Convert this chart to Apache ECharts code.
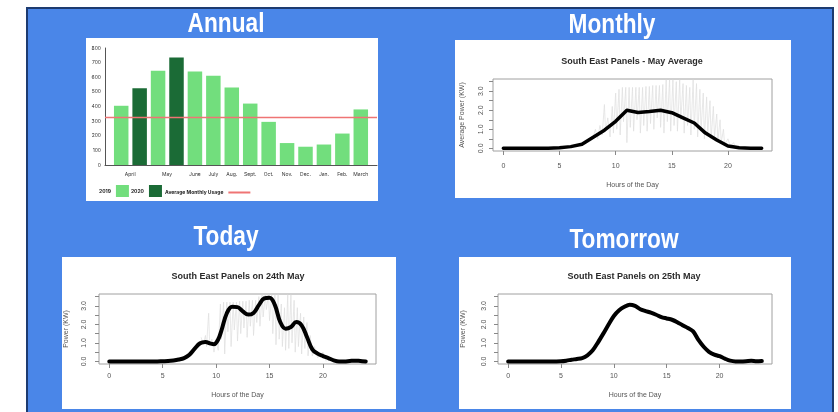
<!DOCTYPE html>
<html><head><meta charset="utf-8">
<script src="https://cdn.jsdelivr.net/npm/echarts@6/dist/echarts.min.js"></script>
<style>html,body{margin:0;padding:0;background:#fff}#c{width:838px;height:412px}</style>
</head><body><div id="c"></div>
<script>
// ---------- Annual ----------
const months = ['April','May','June','July','Aug.','Sept.','Oct.','Nov.','Dec.','Jan.','Feb.','March'];
const usage2019 = [405,645,640,610,530,420,295,150,125,140,215,380];
const usage2020 = [525,735,null,null,null,null,null,null,null,null,null,null];
const averageMonthlyUsage = 325;

// ---------- Monthly (May average) ----------
const mayHours = [0,1,2,3,4,5,6,7,8,9,10,11,12,13,14,15,16,17,18,19,20,21,22,23];
const mayAvgPower = [0,0,0,0,0,0.03,0.09,0.21,0.58,0.95,1.42,2.0,1.88,1.93,2.0,1.87,1.6,1.33,0.8,0.44,0.12,0.03,0,0];
const mayGreyHours = [8.0,8.2,8.4,8.6,8.8,9.0,9.1,9.3,9.5,9.7,9.8,10.0,10.1,10.3,10.4,10.6,10.7,10.9,11.0,11.2,11.3,11.5,11.6,11.8,11.9,12.1,12.2,12.4,12.5,12.7,12.8,13.0,13.1,13.3,13.4,13.6,13.7,13.9,14.0,14.2,14.3,14.5,14.6,14.8,14.9,15.1,15.2,15.4,15.5,15.7,15.8,16.0,16.1,16.3,16.4,16.6,16.7,16.9,17.0,17.2,17.3,17.5,17.6,17.8,17.9,18.1,18.2,18.4,18.5,18.7,18.8,19.0,19.1,19.3,19.4,19.6,19.7,20.0,20.2,20.5,20.7];
const mayGreyPower = [0.6,1.0,0.5,1.2,0.7,2.3,0.9,1.6,0.6,2.2,0.8,2.9,1.0,3.1,0.7,3.2,1.4,3.2,0.3,3.2,1.1,3.2,0.9,3.2,1.5,3.2,0.8,3.2,1.2,3.25,0.9,3.25,1.3,3.3,1.0,3.3,1.6,3.3,1.1,3.35,0.8,3.6,1.4,3.6,0.9,3.6,1.2,3.5,0.9,3.6,1.5,3.4,0.8,3.3,1.2,3.2,0.7,3.6,1.0,3.4,0.6,3.1,0.9,2.9,0.5,2.7,0.8,2.5,0.5,2.2,0.6,1.8,0.4,1.5,0.3,1.0,0.2,0.5,0.1,0.3,0.0];

// ---------- Today (24th May) ----------
const todayHours = [0,1,2,3,4,4.5,5,5.5,6,6.5,7,7.5,8,8.5,9,9.5,9.8,10.2,10.5,11,11.5,12,12.5,13,13.5,14,14.5,15,15.5,16,16.5,17,17.5,18,18.5,19,19.5,20,20.5,21,21.5,22,22.5,23,23.5,24];
const todayPower = [0,0,0,0,0,0,0.01,0.02,0.05,0.1,0.18,0.36,0.69,0.98,1.05,0.96,0.93,1.2,1.68,2.6,2.95,2.93,2.7,2.53,2.62,3.04,3.4,3.44,3.04,2.13,1.77,1.86,2.13,1.95,1.32,0.65,0.42,0.29,0.18,0.06,0,0,0.02,0.04,0.02,0];
const todayGreyHours = [8.6,8.8,9.0,9.1,9.3,9.4,9.6,9.8,10.0,10.2,10.4,10.5,10.7,10.8,11.0,11.1,11.3,11.4,11.6,11.7,11.9,12.0,12.2,12.3,12.5,12.6,12.8,12.9,13.1,13.2,13.4,13.5,13.7,13.8,14.0,14.1,14.3,14.4,14.6,14.7,14.9,15.0,15.2,15.3,15.5,15.6,15.8,15.9,16.1,16.2,16.4,16.5,16.7,16.8,17.0,17.1,17.3,17.4,17.6,17.7,17.9,18.0,18.2,18.3,18.5,18.6,18.8,19.0,19.2,19.5,20.0,20.3];
const todayGreyPower = [1.3,0.9,1.4,0.8,2.6,0.9,1.2,0.5,1.1,0.6,3.1,1.2,3.2,0.4,3.2,1.6,3.2,0.8,3.2,1.7,3.2,1.1,3.25,1.5,3.25,1.8,3.25,1.3,3.3,1.9,3.3,1.4,3.3,2.1,3.5,1.9,3.6,2.4,3.6,2.8,3.6,2.2,3.6,1.5,3.6,0.9,3.6,1.2,3.1,0.8,2.9,0.6,3.6,0.7,3.6,1.0,3.3,0.5,2.9,0.8,2.6,0.4,2.4,0.7,2.1,0.3,1.4,0.3,0.8,0.2,0.5,0.0];

// ---------- Tomorrow (25th May) ----------
const tomorrowHours = [0,1,2,3,4,5,5.5,6,6.5,7,7.5,8,8.5,9,9.5,10,10.5,11,11.5,12,12.5,13,13.5,14,14.5,15,15.5,16,16.5,17,17.5,18,18.5,19,19.5,20,20.5,21,21.5,22,22.5,23,23.5,24];
const tomorrowPower = [0,0,0,0,0,0.01,0.04,0.09,0.13,0.18,0.33,0.6,1.03,1.5,1.99,2.45,2.76,2.95,3.06,3.0,2.82,2.72,2.63,2.52,2.39,2.32,2.25,2.12,1.95,1.8,1.62,1.16,0.79,0.52,0.37,0.28,0.15,0.04,0,0,0.01,0.03,0.01,0.02];

const powerTicks = [0,0.5,1,1.5,2,2.5,3,3.5];
const powerLabels = [0,1,2,3];
const hourLabels = [0,5,10,15,20];

const zip = (xs, ys) => xs.map((x, i) => [x, ys[i]]);

// Annual slots: paired months get two slots
const slots = [], s2019 = [], s2020 = [];
months.forEach((m, i) => {
  const paired = usage2020[i] != null;
  slots.push(paired ? {value: m, textStyle: {padding: [0, 0, 0, 18]}} : m);
  s2019.push(usage2019[i]); s2020.push('-');
  if (paired) { slots.push(m + ' 2020'); s2019.push('-'); s2020.push(usage2020[i]); }
});

const RF = 'Liberation Sans, Arial, sans-serif';
const grids = [], xAxes = [], yAxes = [], series = [], titles = [];

// Annual frame grid (0) and bar grid (1)
grids.push({left: 105, top: 48, width: 272, height: 117});
grids.push({left: 112, top: 48, width: 258, height: 117});
xAxes.push({type: 'value', gridIndex: 0, min: 0, max: 1, axisLine: {show: true, onZero: false, lineStyle: {color: '#555', width: 1}},
  axisTick: {show: false}, axisLabel: {show: false}, splitLine: {show: false}});
yAxes.push({type: 'value', gridIndex: 0, min: 0, max: 800, interval: 100, axisLine: {show: true, onZero: false, lineStyle: {color: '#555', width: 1}},
  axisTick: {show: false}, splitLine: {show: false},
  axisLabel: {fontSize: 5, color: '#333', margin: 4, fontFamily: 'Inter, sans-serif'}});
xAxes.push({type: 'category', gridIndex: 1, data: slots, axisLine: {show: false}, axisTick: {show: false},
  axisLabel: {interval: 0, fontSize: 5, color: '#333', margin: 7, fontFamily: 'Inter, sans-serif',
    formatter: v => v.endsWith(' 2020') ? '' : v}});
yAxes.push({type: 'value', gridIndex: 1, min: 0, max: 800, show: false});
series.push({name: '2019', type: 'bar', xAxisIndex: 1, yAxisIndex: 1, stack: 'u', barWidth: 14.5, data: s2019,
  itemStyle: {color: '#72de7d'}});
series.push({name: '2020', type: 'bar', xAxisIndex: 1, yAxisIndex: 1, stack: 'u', barWidth: 14.5, data: s2020,
  itemStyle: {color: '#1b6b36'}});
series.push({name: 'Average Monthly Usage', type: 'line', xAxisIndex: 0, yAxisIndex: 0, symbol: 'none', z: 5,
  color: '#ef7474', lineStyle: {color: '#ef7474', width: 1.5},
  data: [[0, averageMonthlyUsage], [1, averageMonthlyUsage]]});

function rPlot(box, xr, yName, m) {
  const gi = grids.length;
  grids.push({left: box[0], top: box[1], width: box[2], height: box[3], show: true,
    borderColor: '#a0a0a0', borderWidth: 1, backgroundColor: 'transparent'});
  xAxes.push({type: 'value', gridIndex: gi, min: xr[0], max: xr[1], splitLine: {show: false},
    axisLine: {show: false, onZero: false},
    axisTick: {show: true, inside: false, customValues: hourLabels, length: 4, lineStyle: {color: '#888'}},
    axisLabel: {customValues: hourLabels, fontSize: 7, color: '#555', margin: m.xm, fontFamily: RF},
    name: 'Hours of the Day', nameLocation: 'middle', nameGap: m.xn,
    nameTextStyle: {fontSize: 7, color: '#555', fontFamily: RF}});
  yAxes.push({type: 'value', gridIndex: gi, min: -0.14, max: 3.64, splitLine: {show: false},
    axisLine: {show: false, onZero: false},
    axisTick: {show: true, inside: false, customValues: powerTicks, length: 4, lineStyle: {color: '#888'}},
    axisLabel: {customValues: powerLabels, rotate: 90, fontSize: 7, color: '#555', margin: m.ym, fontFamily: RF,
      formatter: v => v.toFixed(1)},
    name: yName, nameLocation: 'middle', nameGap: m.yn,
    nameTextStyle: {fontSize: 7, color: '#555', fontFamily: RF}});
  return gi;
}
function addLines(gi, grey, black, bw, smooth) {
  if (grey) series.push({type: 'line', xAxisIndex: gi, yAxisIndex: gi, symbol: 'none', z: 2, data: grey,
    lineStyle: {color: '#dedede', width: 0.7}, silent: true});
  series.push({type: 'line', xAxisIndex: gi, yAxisIndex: gi, symbol: 'none', z: 3, data: black, smooth: smooth,
    lineStyle: {color: '#000', width: bw, cap: 'round', join: 'round'}});
}
const gM = rPlot([493, 79, 279, 72], [-0.92, 23.92], 'Average Power (KW)', {xm: 12, xn: 31, ym: 8, yn: 27});
addLines(gM, zip(mayGreyHours, mayGreyPower), zip(mayHours, mayAvgPower), 3.5, false);
const gT = rPlot([99, 294, 277, 70], [-0.96, 24.96], 'Power (KW)', {xm: 9, xn: 28, ym: 11, yn: 29});
addLines(gT, zip(todayGreyHours, todayGreyPower), zip(todayHours, todayPower), 4, 0.4);
const gN = rPlot([498, 294, 274, 70], [-0.96, 24.96], 'Power (KW)', {xm: 9, xn: 28, ym: 10, yn: 31});
addLines(gN, null, zip(tomorrowHours, tomorrowPower), 4, 0.3);

const tStyle = {fontSize: 9, fontWeight: 'bold', color: '#2a2a2a', fontFamily: RF};
titles.push({text: 'South East Panels - May Average', left: 632, top: 57, textAlign: 'center', padding: 0, textStyle: tStyle});
titles.push({text: 'South East Panels on 24th May', left: 238, top: 272, textAlign: 'center', padding: 0, textStyle: tStyle});
titles.push({text: 'South East Panels on 25th May', left: 634, top: 272, textAlign: 'center', padding: 0, textStyle: tStyle});

const HF = '"Liberation Sans", Arial, sans-serif';
const heading = (t, x, y) => ({type: 'text', x: x, y: y, z: 10, scaleX: 0.84, scaleY: 1,
  style: {text: t, fill: '#fff', font: 'bold 27px ' + HF, textAlign: 'center', textVerticalAlign: 'middle'}});
const panel = (x, y, w, h) => ({type: 'rect', z: -1, shape: {x: x, y: y, width: w, height: h}, style: {fill: '#ffffff'}});

const chart = echarts.init(document.getElementById('c'), null, {renderer: 'canvas'});
chart.setOption({
  animation: false,
  backgroundColor: '#ffffff',
  title: titles,
  grid: grids, xAxis: xAxes, yAxis: yAxes, series: series,
  legend: [
    {data: ['2019', '2020'], left: 99, top: 185, padding: 0, itemWidth: 13, itemHeight: 12, itemGap: 2,
      align: 'right', icon: 'rect', textStyle: {fontSize: 5, color: '#222', fontWeight: 'bold', fontFamily: 'Inter, sans-serif'}},
    {data: ['Average Monthly Usage'], left: 165, top: 190, padding: 0, itemWidth: 22, itemHeight: 2, icon: 'rect',
      align: 'right', textStyle: {fontSize: 5, color: '#222', fontWeight: 'bold', fontFamily: 'Inter, sans-serif'}}
  ],
  graphic: [
    {type: 'rect', z: -2, shape: {x: 27, y: 8, width: 806, height: 420},
      style: {fill: '#4a86e8', stroke: '#1d3b70', lineWidth: 2}},
    panel(86, 38, 292, 163),
    panel(455, 40, 336, 158),
    panel(62, 257, 334, 152),
    panel(459, 257, 332, 152),
    heading('Annual', 226, 25),
    heading('Monthly', 612, 26),
    heading('Today', 226, 238),
    heading('Tomorrow', 624, 241)
  ]
});
</script></body></html>
